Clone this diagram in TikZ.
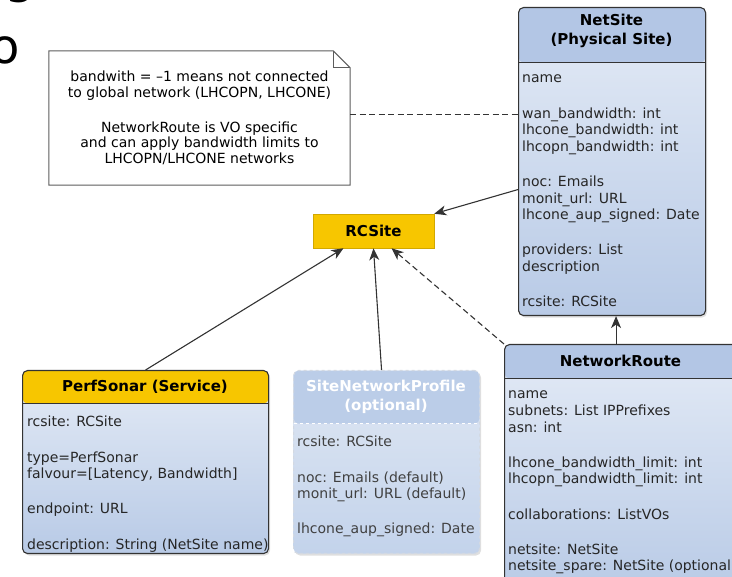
\documentclass[tikz,border=0pt]{standalone}
\usepackage{fontspec}
\setmainfont{DejaVu Sans}
\usetikzlibrary{arrows.meta,shapes,shadows,positioning,calc}

\definecolor{headblue}{HTML}{B3C6E5}
\definecolor{bodytop}{HTML}{E4EBF6}
\definecolor{bodybot}{HTML}{B8CAE6}
\definecolor{rcyellow}{HTML}{F7C600}
\definecolor{edgegray}{HTML}{333333}
\definecolor{optheadblue}{HTML}{BBCDE8}
\definecolor{optbodytop}{HTML}{DFE7F3}
\definecolor{optbodybot}{HTML}{C3D3EB}
\definecolor{optedge}{HTML}{D3D9E2}

\tikzset{
  sepline/.style={edgegray, line width=1pt},
  umlclass/.style 2 args={draw=edgegray, line width=1.1pt, rounded corners=5pt,
    anchor=north west, inner sep=0pt, top color=bodytop, bottom color=bodybot,
    drop shadow={opacity=0.25, shadow xshift=1.5pt, shadow yshift=-2pt},
    path picture={
      \fill[#1] (path picture bounding box.north west) rectangle
        ([yshift=-#2]path picture bounding box.north east);
      \draw[sepline] ([yshift=-#2]path picture bounding box.north west) --
        ([yshift=-#2]path picture bounding box.north east);}},
  classname/.style={font=\fontsize{15}{18.5}\selectfont\bfseries, align=center},
  attrs/.style={font=\fontsize{14}{16.6}\selectfont, align=left, anchor=north west,
    inner sep=0pt, text=black!85},
  notebox/.style={draw=edgegray!80, line width=1pt},
  link/.style={-{Stealth[length=12pt, width=10pt, inset=3.5pt]}, line width=1.1pt, edgegray},
  dashlink/.style={dash pattern=on 6pt off 3.5pt},
}

\begin{document}
\begin{tikzpicture}[x=1pt, y=-1pt]
  \useasboundingbox (0,0) rectangle (732,577);
  \clip (0,0) rectangle (732,577);

  % slide text left over at the border
  \node[font=\fontsize{50}{50}\selectfont, anchor=base east, inner sep=0pt] (fragg) at (36,-7) {g};
  \node[font=\fontsize{48}{48}\selectfont, anchor=base east, inner sep=0pt] (frago) at (20,64) {o};

  % note
  \node[minimum width=301pt, minimum height=134pt, align=center,
    font=\fontsize{14}{15.5}\selectfont] (note) at (199.5,118)
    {bandwith = --1 means not connected\\to global network (LHCOPN, LHCONE)\\[19.5pt]
     NetworkRoute is VO specific\\and can apply bandwidth limits to\\LHCOPN/LHCONE networks};
  \draw[notebox] (note.south west) -- (note.north west) -- ([xshift=-17pt]note.north east)
    -- ([yshift=-17pt]note.north east) -- (note.south east) -- cycle;
  \draw[notebox] ([xshift=-17pt]note.north east) |- ([yshift=-17pt]note.north east);

  % NetSite
  \node[umlclass={headblue}{55pt}, minimum width=187pt, minimum height=308pt] (netsite) at (518,7) {};
  \node[classname] (netsitename) at (611.5,31) {NetSite\\(Physical Site)};
  \node[attrs] (netsiteattrs) at (522,71) {\strut name\\[18.6pt]
    wan\_bandwidth: int\\lhcone\_bandwidth: int\\lhcopn\_bandwidth: int\\[18.6pt]
    noc: Emails\\monit\_url: URL\\lhcone\_aup\_signed: Date\\[18.6pt]
    providers: List\\description\\[18.6pt]
    rcsite: RCSite};

  % RCSite
  \node[fill=rcyellow, draw=rcyellow!85!black, line width=0.5pt, minimum width=121pt,
    minimum height=34pt, font=\fontsize{15}{18}\selectfont\bfseries] (rcsite) at (373.5,231) {RCSite};

  % PerfSonar
  \node[umlclass={rcyellow}{33pt}, minimum width=246pt, minimum height=183pt] (perfsonar) at (22,370) {};
  \node[classname] (perfsonarname) at (145,387) {PerfSonar (Service)};
  \node[attrs] (perfsonarattrs) at (27,415) {\strut rcsite: RCSite\\[18.6pt]
    type=PerfSonar\\falvour=[Latency, Bandwidth]\\[18.6pt]
    endpoint: URL\\[18.6pt]
    description: String (NetSite name)};

  % SiteNetworkProfile
  \node[umlclass={optheadblue}{53pt}, sepline/.style={white, dashed, line width=1pt},
    draw=optedge, dashed, top color=optbodytop, bottom color=optbodybot,
    minimum width=186pt, minimum height=183pt] (netprofile) at (293,370) {};
  \node[classname, text=white] (netprofilename) at (386,397) {SiteNetworkProfile\\(optional)};
  \node[attrs, text=black!75] (netprofileattrs) at (297,435) {\strut rcsite: RCSite\\[18.6pt]
    noc: Emails (default)\\monit\_url: URL (default)\\[18.6pt]
    lhcone\_aup\_signed: Date};

  % NetworkRoute
  \node[umlclass={headblue}{34pt}, minimum width=233pt, minimum height=250pt] (route) at (504,344) {};
  \node[classname] (routename) at (620.5,361) {NetworkRoute};
  \node[attrs] (routeattrs) at (508,387) {\strut name\\subnets: List IPPrefixes\\asn: int\\[18.6pt]
    lhcone\_bandwidth\_limit: int\\lhcopn\_bandwidth\_limit: int\\[18.6pt]
    collaborations: ListVOs\\[18.6pt]
    netsite: NetSite\\netsite\_spare: NetSite (optional)};

  % connectors
  \draw[edgegray, dashlink, line width=1pt] ([yshift=3pt]note.east) -- ([yshift=3pt]note.east -| netsite.west);
  \draw[link] ([yshift=-28pt]netsite.west) -- (rcsite.north east);
  \draw[link] (perfsonar.north) -- ([xshift=-30pt]rcsite.south);
  \draw[link] ([xshift=-5pt]netprofile.north) -- (rcsite.south);
  \draw[link, dashlink] (route.north west) -- ([xshift=18pt]rcsite.south);
  \draw[link] ([xshift=-5pt]route.north) -- ([xshift=-5pt]route.north |- netsite.south);
\end{tikzpicture}
\end{document}
